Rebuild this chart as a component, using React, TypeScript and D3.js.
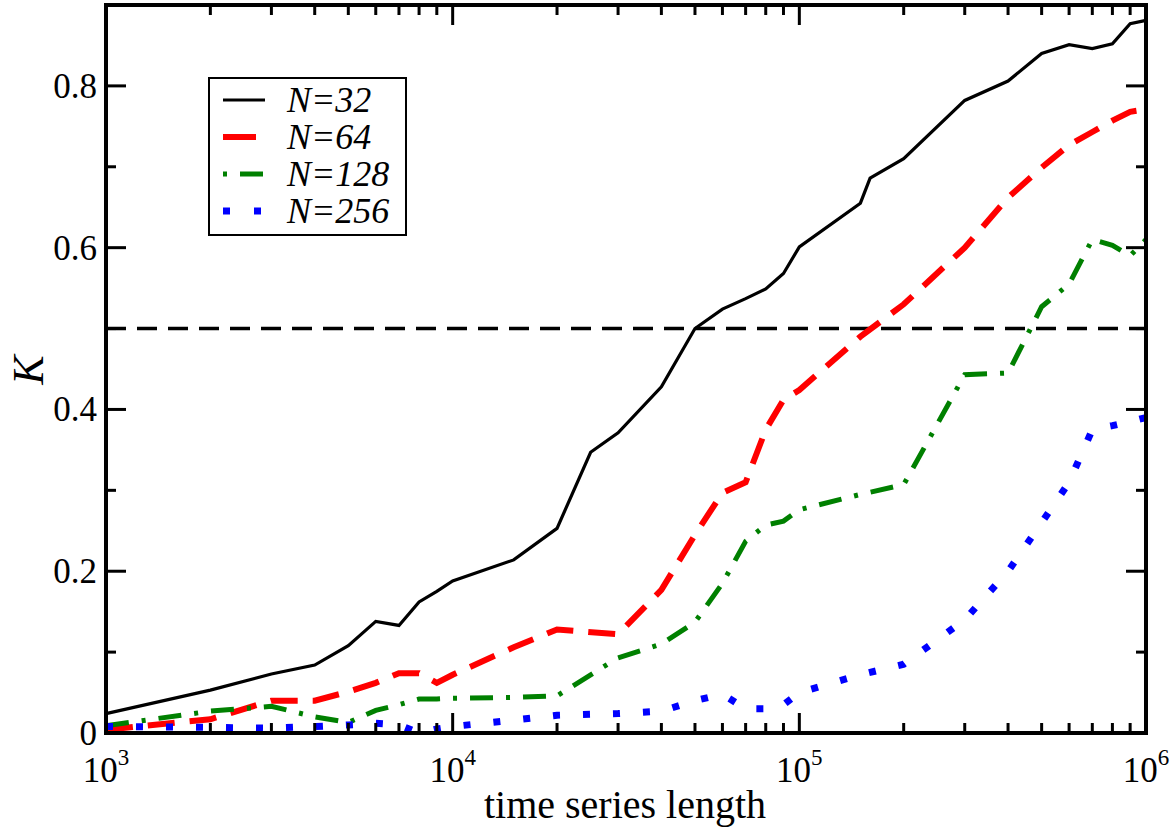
import React from 'react';
import { scaleLog, scaleLinear, line } from 'd3';

// series: K vs time series length
const x32 = [1e3, 2e3, 3e3, 4e3, 5e3, 6e3, 7e3, 8e3, 9e3, 1e4, 1.5e4, 2e4, 2.5e4, 3e4, 4e4, 5e4, 6e4, 7e4, 8e4, 9e4, 1e5, 1.5e5, 1.6e5, 2e5, 3e5, 4e5, 5e5, 6e5, 7e5, 8e5, 9e5, 1e6];
const k32 = [0.024, 0.053, 0.073, 0.084, 0.108, 0.138, 0.133, 0.162, 0.175, 0.188, 0.214, 0.253, 0.347, 0.371, 0.428, 0.5, 0.524, 0.537, 0.549, 0.568, 0.601, 0.655, 0.686, 0.71, 0.782, 0.806, 0.84, 0.851, 0.846, 0.852, 0.877, 0.881];

const x64 = [1e3, 2e3, 3e3, 4e3, 5e3, 6e3, 7e3, 8e3, 9e3, 1e4, 1.5e4, 2e4, 3e4, 4e4, 5e4, 6e4, 7e4, 8e4, 9e4, 1e5, 1.5e5, 2e5, 3e5, 4e5, 5e5, 6e5, 7e5, 8e5, 9e5, 1e6];
const k64 = [0.004, 0.017, 0.04, 0.04, 0.051, 0.062, 0.074, 0.074, 0.062, 0.072, 0.106, 0.128, 0.122, 0.177, 0.245, 0.297, 0.31, 0.375, 0.412, 0.424, 0.49, 0.53, 0.6, 0.662, 0.699, 0.727, 0.743, 0.757, 0.768, 0.771];

const x128 = [1e3, 2e3, 3e3, 4e3, 5e3, 6e3, 7e3, 8e3, 9e3, 1e4, 1.5e4, 2e4, 3e4, 4e4, 5e4, 6e4, 7e4, 8e4, 9e4, 1e5, 1.5e5, 2e5, 3e5, 4e5, 5e5, 6e5, 7e5, 8e5, 9e5, 1e6];
const k128 = [0.009, 0.027, 0.033, 0.02, 0.013, 0.028, 0.035, 0.042, 0.042, 0.043, 0.044, 0.046, 0.093, 0.11, 0.137, 0.185, 0.237, 0.257, 0.262, 0.276, 0.295, 0.307, 0.443, 0.445, 0.527, 0.555, 0.61, 0.603, 0.59, 0.61];

const x256 = [1e3, 2e3, 3e3, 4e3, 5e3, 6e3, 7e3, 8e3, 9e3, 1e4, 1.5e4, 2e4, 3e4, 4e4, 5e4, 6e4, 7e4, 8e4, 9e4, 1e5, 1.5e5, 2e5, 3e5, 4e5, 5e5, 6e5, 7e5, 8e5, 9e5, 1e6];
const k256 = [0.008, 0.007, 0.006, 0.008, 0.01, 0.012, 0.01, 0.0, 0.005, 0.008, 0.016, 0.022, 0.024, 0.027, 0.04, 0.048, 0.03, 0.03, 0.035, 0.05, 0.072, 0.085, 0.14, 0.2, 0.26, 0.31, 0.375, 0.38, 0.385, 0.39];

const labels = ['N=32', 'N=64', 'N=128', 'N=256'];
const colors = ['#000000', '#ff0000', '#008000', '#0000ff'];
const widths = [3.2, 6, 5, 7];
const dashes = ['none', '27 15', '23 13 4 13', '7 23'];

const yMajor = [0, 0.2, 0.4, 0.6, 0.8];
const yMinor = [0.1, 0.3, 0.5, 0.7];
const xDecades = [3, 4, 5, 6];

const W = 1175, H = 831;
const margin = { top: 5, right: 29, bottom: 98, left: 106 };
const serif = 'Liberation Serif, DejaVu Serif, serif';

export default function App() {
  const iw = W - margin.left - margin.right;
  const ih = H - margin.top - margin.bottom;
  const x = scaleLog().domain([1e3, 1e6]).range([0, iw]);
  const y = scaleLinear().domain([0, 0.9]).range([ih, 0]);

  const series = [
    { xs: x32, ys: k32 },
    { xs: x64, ys: k64 },
    { xs: x128, ys: k128 },
    { xs: x256, ys: k256 },
  ];
  const path = line<[number, number]>().x(d => x(d[0])).y(d => y(d[1]));

  const xMinor: number[] = [];
  [1e3, 1e4, 1e5].forEach(b => { for (let i = 2; i <= 9; i++) xMinor.push(b * i); });

  const txt = { fontFamily: serif };
  const itl = { fontFamily: serif, fontStyle: 'italic' as const };

  return (
    <svg width={W} height={H} style={{ position: 'absolute', left: 0, top: 0, background: '#fff' }}>
      <g transform={`translate(${margin.left},${margin.top})`}>
        {/* reference line K = 0.5 */}
        <line x1={0} x2={iw} y1={y(0.5)} y2={y(0.5)} stroke="#000" strokeWidth={3.5} strokeDasharray="20 11" />

        {series.map((s, i) => (
          <path key={i} d={path(s.xs.map((v, j) => [v, s.ys[j]]) as [number, number][]) || ''}
            fill="none" stroke={colors[i]} strokeWidth={widths[i]} strokeDasharray={dashes[i]}
            strokeLinejoin="miter" />
        ))}

        {/* ticks */}
        {yMajor.map(v => (
          <g key={'ym' + v}>
            <line x1={0} x2={20} y1={y(v)} y2={y(v)} stroke="#000" strokeWidth={3} />
            <line x1={iw} x2={iw - 20} y1={y(v)} y2={y(v)} stroke="#000" strokeWidth={3} />
            <text x={-9} y={y(v) + 12} textAnchor="end" style={txt} fontSize={35}>{v === 0 ? '0' : v.toFixed(1)}</text>
          </g>
        ))}
        {yMinor.map(v => (
          <g key={'yn' + v}>
            <line x1={0} x2={10} y1={y(v)} y2={y(v)} stroke="#000" strokeWidth={3} />
            <line x1={iw} x2={iw - 10} y1={y(v)} y2={y(v)} stroke="#000" strokeWidth={3} />
          </g>
        ))}
        {xDecades.map(d => (
          <g key={'xd' + d}>
            <line x1={x(10 ** d)} x2={x(10 ** d)} y1={ih} y2={ih - 20} stroke="#000" strokeWidth={3} />
            <line x1={x(10 ** d)} x2={x(10 ** d)} y1={0} y2={20} stroke="#000" strokeWidth={3} />
            <text x={x(10 ** d)} y={ih + 49} textAnchor="middle" style={txt} fontSize={35}>
              10<tspan dy={-17} fontSize={23}>{d}</tspan>
            </text>
          </g>
        ))}
        {xMinor.map(v => (
          <g key={'xn' + v}>
            <line x1={x(v)} x2={x(v)} y1={ih} y2={ih - 10} stroke="#000" strokeWidth={3} />
            <line x1={x(v)} x2={x(v)} y1={0} y2={10} stroke="#000" strokeWidth={3} />
          </g>
        ))}

        <rect x={0} y={0} width={iw} height={ih} fill="none" stroke="#000" strokeWidth={4} />

        {/* legend */}
        <g transform="translate(103,73)">
          <rect x={0} y={0} width={197} height={157} fill="#fff" stroke="#000" strokeWidth={2} />
          {labels.map((l, i) => (
            <g key={l} transform={`translate(0,${22 + i * 37})`}>
              <line x1={14} x2={56} y1={0} y2={0} stroke={colors[i]} strokeWidth={widths[i]}
                strokeDasharray={i === 1 ? '33 100' : i === 2 ? '4 13 23 100' : i === 3 ? '7 24' : 'none'} />
              <text x={78} y={12} style={itl} fontSize={36}>{l}</text>
            </g>
          ))}
        </g>
      </g>

      <text x={625} y={818} textAnchor="middle" style={txt} fontSize={40}>time series length</text>
      <text transform="translate(43,370) rotate(-90)" textAnchor="middle" style={itl} fontSize={44}>K</text>
    </svg>
  );
}
